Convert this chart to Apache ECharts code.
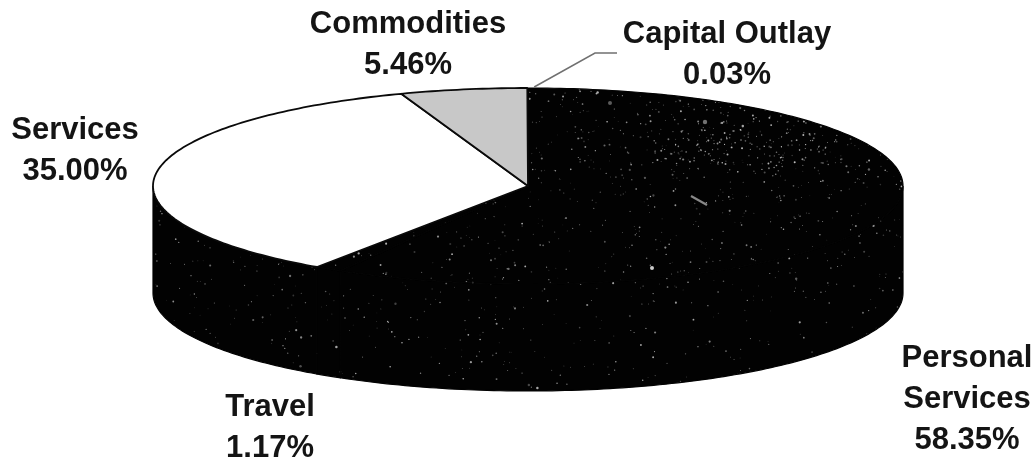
<!DOCTYPE html>
<html>
<head>
<meta charset="utf-8">
<style>html,body{margin:0;padding:0;background:#fff}#c{width:1036px;height:463px}</style>
<script src="https://cdn.jsdelivr.net/npm/echarts@6/dist/echarts.min.js"></script>
</head>
<body>
<div id="c"></div>
<script>
// Data, clockwise from 12 o'clock
const categories = ['Personal\nServices', 'Travel', 'Services', 'Commodities', 'Capital Outlay'];
const shares = [58.35, 1.17, 35.00, 5.46, 0.03];

// Drawing layout, separate from the data
const PIE = { cx: 528, cy: 186, rx: 375, ry: 98, depth: 107 };
const LABEL_AT = [[967, 399], [270, 428], [75, 151], [408, 45], [727, 55]];
const SPECKLED = 'speckle', TOP_FILL = ['speckle', 'speckle', '#ffffff', '#c8c8c8', '#c8c8c8'];
const TOP_STROKE = [null, null, '#0a0a0a', '#0a0a0a', null];
const LEADER = [[595, 53], [617, 53]];

// Scanned-print speckle: a page-sized fixed texture of soft dots (deterministic, not data)
function makeSpeckle() {
  const w = 1036, h = 463, cv = document.createElement('canvas');
  cv.width = w; cv.height = h;
  const g = cv.getContext('2d');
  g.fillStyle = '#020202';
  g.fillRect(0, 0, w, h);
  let s = 20240611;
  const next = () => {
    s = (s + 0x6D2B79F5) | 0;
    let t = Math.imul(s ^ (s >>> 15), 1 | s);
    t = (t + Math.imul(t ^ (t >>> 7), 61 | t)) ^ t;
    return ((t ^ (t >>> 14)) >>> 0) / 4294967296;
  };
  const dot = (x, y, r, a) => {
    g.fillStyle = 'rgba(225,225,225,' + a.toFixed(2) + ')';
    g.beginPath(); g.arc(x, y, r, 0, Math.PI * 2); g.fill();
  };
  g.filter = 'blur(0.4px)';
  // general scatter, thinning towards the bottom of the pie
  for (let i = 0; i < 2400; i++) {
    const x = 150 + next() * 760, y = 88 + next() * 305;
    const keep = 1 - 0.7 * (y - 88) / 305;
    const r = 0.4 + next() * next() * 0.9, a = 0.2 + next() * 0.6;
    if (next() < keep) dot(x, y, r, a);
  }
  // soft denser cloud in the upper right of the top face
  for (let i = 0; i < 260; i++) {
    const x = 760 + (next() + next() + next() - 1.5) * 140;
    const y = 145 + (next() + next() + next() - 1.5) * 45;
    dot(x, y, 0.4 + next() * 0.6, 0.25 + next() * 0.6);
  }
  // the few larger blemishes of the scan
  dot(705, 122, 2.2, 0.5); dot(652, 268, 2, 0.9); dot(610, 103, 2, 0.4);
  g.strokeStyle = 'rgba(170,170,170,0.8)'; g.lineWidth = 2.2;
  g.beginPath(); g.moveTo(691, 196); g.lineTo(707, 205); g.stroke();
  return { image: cv, repeat: 'no-repeat' };
}
const speckle = makeSpeckle();
const fillOf = f => f === SPECKLED ? speckle : f;

const total = shares.reduce((a, b) => a + b, 0);
const onRim = (deg, dy) => {
  const t = deg * Math.PI / 180;
  return [PIE.cx + PIE.rx * Math.sin(t), PIE.cy - PIE.ry * Math.cos(t) + (dy || 0)];
};
const arc = (a0, a1, dy) => {
  const out = [], n = Math.max(2, Math.ceil(Math.abs(a1 - a0)));
  for (let i = 0; i <= n; i++) out.push(onRim(a0 + (a1 - a0) * i / n, dy));
  return out;
};

function renderItem(params, api) {
  const i = params.dataIndex;
  let before = 0;
  for (let k = 0; k < i; k++) before += shares[k];
  const v = api.value(0);
  const a0 = before / total * 360, a1 = (before + v) / total * 360;
  const children = [];

  // visible front wall of the slice
  const s0 = Math.max(a0, 90), s1 = Math.min(a1, 270);
  if (s1 > s0) {
    children.push({
      type: 'polygon',
      shape: { points: arc(s0, s1, 0).concat(arc(s1, s0, PIE.depth)) },
      style: { fill: speckle, stroke: '#030303', lineWidth: 1.2 }
    });
  }
  // top face
  const speck = TOP_FILL[i] === SPECKLED;
  children.push({
    type: 'polygon',
    z2: TOP_STROKE[i] ? 2 : 1,
    shape: { points: [[PIE.cx, PIE.cy]].concat(arc(a0, a1, 0)) },
    style: {
      fill: fillOf(TOP_FILL[i]),
      stroke: TOP_STROKE[i] || (speck ? '#030303' : 'none'),
      lineWidth: speck ? 1.2 : 1.8,
      lineJoin: 'round'
    }
  });
  // leader line for the label that cannot sit on its slice
  if (i === 4) {
    children.push({
      type: 'polyline',
      z2: 3,
      shape: { points: [onRim((a0 + a1) / 2 + 1, -1)].concat(LEADER) },
      style: { fill: 'none', stroke: '#707070', lineWidth: 1.5 }
    });
  }
  // label
  children.push({
    type: 'text',
    z2: 4,
    style: {
      x: LABEL_AT[i][0],
      y: LABEL_AT[i][1],
      text: api.value(1) + '\n' + v.toFixed(2) + '%',
      fill: '#141414',
      font: 'bold 31px "Liberation Sans", Arial, sans-serif',
      lineHeight: 41,
      align: 'center',
      verticalAlign: 'middle'
    }
  });
  return { type: 'group', children };
}

const chart = echarts.init(document.getElementById('c'), null, { renderer: 'canvas' });
chart.setOption({
  animation: false,
  backgroundColor: '#ffffff',
  series: [{
    type: 'custom',
    coordinateSystem: 'none',
    renderItem,
    silent: true,
    dimensions: ['share', { name: 'label', type: 'ordinal' }],
    encode: { value: 0 },
    data: categories.map((c, i) => [shares[i], c])
  }]
});
</script>
</body>
</html>
